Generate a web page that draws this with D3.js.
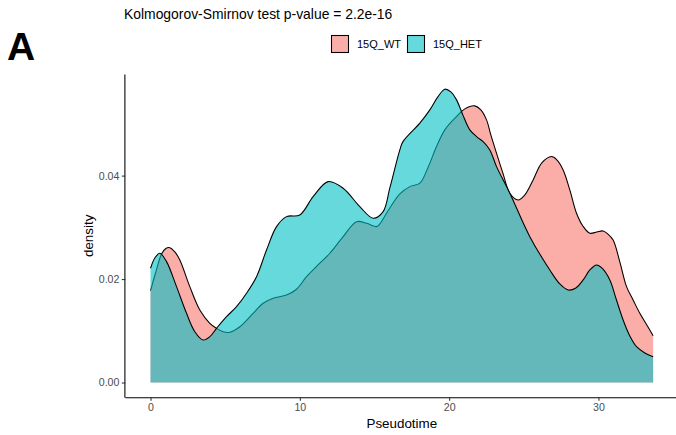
<!DOCTYPE html>
<html>
<head>
<meta charset="utf-8">
<script src="https://cdn.jsdelivr.net/npm/d3@7"></script>
<style>
  html, body { margin: 0; padding: 0; background: #fff; }
  svg { display: block; font-family: "Liberation Sans", Arial, Helvetica, sans-serif; }
</style>
</head>
<body>
<svg id="chart" width="676" height="435"></svg>
<script>
// Kernel density of pseudotime per genotype
const groups = ["15Q_WT", "15Q_HET"];
const groupColors = ["#F8766D", "#00BFC4"];

const wtPseudotime = [0, 0.355, 0.737, 1.025, 1.293, 1.628, 1.962, 2.632, 3.302, 3.972, 4.421, 4.863, 5.311, 5.981,
  6.872, 7.542, 8.212, 9.109, 9.779, 10.449, 11.340, 12.010, 12.900, 13.798, 14.467, 15.137, 15.358, 15.807,
  16.698, 17.367, 18.037, 18.573, 19.156, 19.712, 20.496, 21.052, 21.722, 22.124, 22.505, 22.793, 23.175,
  23.597, 24.066, 24.622, 25.070, 25.626, 26.209, 26.858, 27.213, 27.636, 28.084, 28.533, 28.955, 29.424,
  29.893, 30.315, 30.630, 30.985, 31.433, 31.882, 32.324, 32.773, 33.242, 33.663];
const wtDensity = [0.01776, 0.02137, 0.02486, 0.02592, 0.02607, 0.02524, 0.02369, 0.01853, 0.01402, 0.01145,
  0.01048, 0.00983, 0.00971, 0.01079, 0.01338, 0.01532, 0.01629, 0.01692, 0.01803, 0.02046, 0.02306, 0.02499,
  0.02820, 0.03110, 0.03079, 0.03014, 0.03066, 0.03273, 0.03646, 0.03787, 0.03853, 0.04149, 0.04561, 0.04884,
  0.05141, 0.05290, 0.05348, 0.05271, 0.05077, 0.04787, 0.04433, 0.04052, 0.03660, 0.03530, 0.03627, 0.03917,
  0.04246, 0.04368, 0.04304, 0.04110, 0.03723, 0.03273, 0.03027, 0.02886, 0.02911, 0.02930, 0.02872, 0.02756,
  0.02331, 0.01853, 0.01596, 0.01338, 0.01112, 0.00905];

const hetPseudotime = [0, 0.288, 0.623, 1.072, 1.741, 2.411, 2.967, 3.523, 3.972, 4.421, 5.090, 5.760, 6.430,
  7.100, 7.770, 8.439, 9.109, 10.0, 10.891, 11.896, 12.900, 14.019, 14.910, 15.579, 16.028, 16.698, 16.899,
  18.037, 18.707, 19.243, 19.712, 20.114, 20.496, 20.918, 21.387, 21.856, 22.277, 22.726, 23.175, 24.066,
  25.405, 26.745, 27.414, 27.971, 28.486, 28.975, 29.424, 29.873, 30.228, 30.764, 31.166, 31.654, 32.103,
  32.552, 33.108, 33.663];
const hetDensity = [0.02209, 0.02408, 0.02499, 0.02337, 0.01853, 0.01338, 0.00983, 0.00822, 0.00886, 0.01048,
  0.01273, 0.01466, 0.01725, 0.02046, 0.02563, 0.03014, 0.03207, 0.03240, 0.03594, 0.03884, 0.03756, 0.03400,
  0.03176, 0.03304, 0.03762, 0.04497, 0.04652, 0.05014, 0.05271, 0.05522, 0.05671, 0.05619, 0.05464, 0.05174,
  0.04884, 0.04749, 0.04658, 0.04497, 0.04174, 0.03660, 0.02820, 0.02176, 0.01905, 0.01789, 0.01828, 0.01983,
  0.02176, 0.02273, 0.02215, 0.01983, 0.01634, 0.01209, 0.00899, 0.00692, 0.00571, 0.00499];

const xTicks = [0, 10, 20, 30];
const yTicks = [0, 0.02, 0.04];
const title = "Kolmogorov-Smirnov test p-value = 2.2e-16";
const panelTag = "A";
const xLabel = "Pseudotime";
const yLabel = "density";

const series = [
  { name: groups[0], color: groupColors[0], pts: wtPseudotime.map((t, i) => [t, wtDensity[i]]) },
  { name: groups[1], color: groupColors[1], pts: hetPseudotime.map((t, i) => [t, hetDensity[i]]) }
];

const svg = d3.select("#chart");
const panel = { left: 125.4, top: 74.5, bottom: 397.2 };

// ggplot-style 5% expansion around the data range
const allX = wtPseudotime.concat(hetPseudotime);
const allY = wtDensity.concat(hetDensity);
const xMin = d3.min(allX), xMax = d3.max(allX);
const yMax = d3.max(allY);
const xPad = (xMax - xMin) * 0.05, yPad = yMax * 0.05;
const pxPerUnit = 14.93;
const x = d3.scaleLinear()
  .domain([xMin - xPad, xMax + xPad])
  .range([panel.left, panel.left + (xMax - xMin + 2 * xPad) * pxPerUnit]);
const y = d3.scaleLinear()
  .domain([-yPad, yMax + yPad])
  .range([panel.bottom, panel.top]);

const curve = d3.curveCatmullRom.alpha(0.5);
const area = d3.area().x(d => x(d[0])).y0(y(0)).y1(d => y(d[1])).curve(curve);
const line = d3.line().x(d => x(d[0])).y(d => y(d[1])).curve(curve);

const marks = svg.append("g");
series.forEach(s => {
  marks.append("path").datum(s.pts)
    .attr("d", area).attr("fill", s.color).attr("fill-opacity", 0.6).attr("stroke", "none");
  marks.append("path").datum(s.pts)
    .attr("d", line).attr("fill", "none").attr("stroke", "#000").attr("stroke-width", 1.07);
});

// Axes
const xAxis = svg.append("g").attr("transform", `translate(0,${panel.bottom})`)
  .call(d3.axisBottom(x).tickValues(xTicks).tickFormat(d3.format("d")).tickSizeOuter(0).tickSize(3.6).tickPadding(2.4));
xAxis.select(".domain").attr("d", `M${panel.left},0.5H676`);
const yAxis = svg.append("g").attr("transform", `translate(${panel.left},0)`)
  .call(d3.axisLeft(y).tickValues(yTicks).tickFormat(d3.format(".2f")).tickSizeOuter(0).tickSize(3.6).tickPadding(2.4));
yAxis.select(".domain").attr("d", `M-0.5,${panel.top}V${panel.bottom + 0.5}`);

[xAxis, yAxis].forEach(g => {
  g.select(".domain").attr("stroke", "#000").attr("stroke-width", 1.07);
  g.selectAll(".tick line").attr("stroke", "#333").attr("stroke-width", 1.07);
  g.selectAll(".tick text").attr("fill", "#4D4D4D").attr("font-size", "10.6px")
    .attr("font-family", "Liberation Sans, Arial, sans-serif");
});

// Axis titles
svg.append("text")
  .attr("x", (panel.left + x.range()[1]) / 2).attr("y", 428)
  .attr("text-anchor", "middle").attr("font-size", "13.4px").attr("fill", "#000").text(xLabel);
svg.append("text")
  .attr("transform", `translate(93,${(panel.top + panel.bottom) / 2}) rotate(-90)`)
  .attr("text-anchor", "middle").attr("font-size", "13.4px").attr("fill", "#000").text(yLabel);

// Title and panel tag
svg.append("text").attr("x", 124).attr("y", 19).attr("font-size", "13.9px").attr("fill", "#000").text(title);
svg.append("text").attr("x", 7).attr("y", 60).attr("font-size", "39px").attr("font-weight", "bold")
  .attr("fill", "#000").text(panelTag);

// Legend
const legend = svg.append("g");
const legendX = [331, 407];
series.forEach((s, i) => {
  const g = legend.append("g").attr("transform", `translate(${legendX[i]},35)`);
  g.append("rect").attr("x", 0.5).attr("y", 0.5).attr("width", 17).attr("height", 17)
    .attr("fill", s.color).attr("fill-opacity", 0.6).attr("stroke", "#000").attr("stroke-width", 1.07);
  g.append("text").attr("x", 26).attr("y", 13).attr("font-size", "11px").attr("fill", "#000").text(s.name);
});
</script>
</body>
</html>
